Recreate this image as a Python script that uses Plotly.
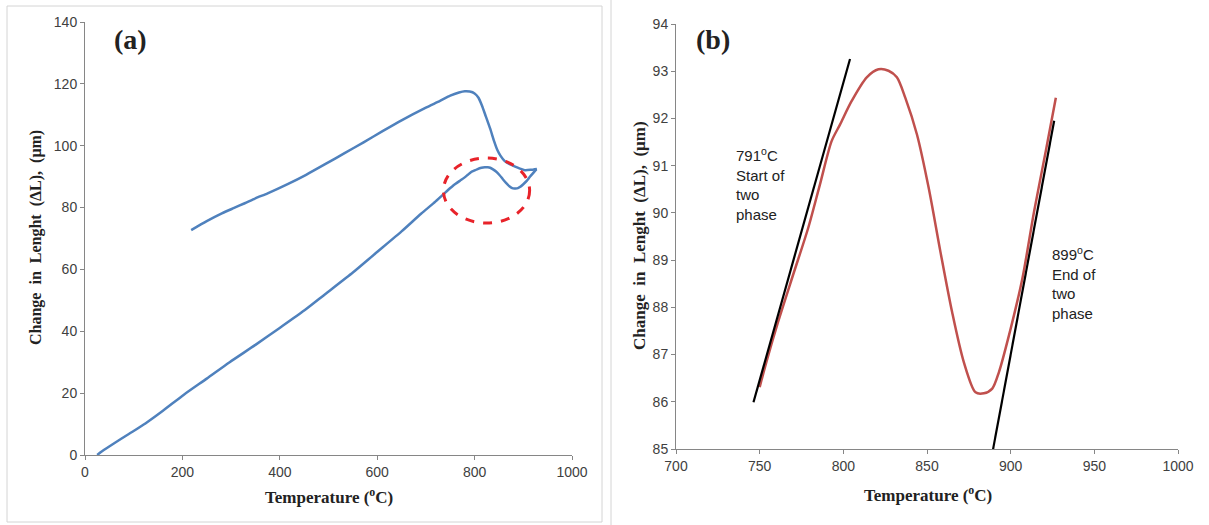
import plotly.graph_objects as go

# ---------------- data ----------------
# Panel (a): heating curve (low-temperature part) and shared high-temp part
heat_T_low = [25, 35, 60, 90, 124, 160, 203, 250, 297, 350, 399, 450, 493, 550, 595, 650, 690, 720]
heat_dL_low = [0.0, 1.2, 3.8, 6.8, 10.2, 14.3, 19.5, 24.7, 30.0, 35.6, 41.0, 46.7, 52.0, 59.0, 65.0, 72.3, 78.0, 82.0]

# Panel (b): detail of the heating curve in the two-phase region
b_T = [750, 754, 761, 770, 779, 786, 793, 798, 805, 814, 821, 827, 832, 837, 844, 851,
       858, 865, 872, 879, 884, 889, 893, 900, 907, 914, 921, 927]
b_dL = [86.31, 86.84, 87.69, 88.69, 89.68, 90.6, 91.52, 91.87, 92.37, 92.87, 93.04, 93.01,
        92.87, 92.44, 91.66, 90.53, 89.18, 87.9, 86.84, 86.2, 86.18, 86.28, 86.63, 87.55,
        88.61, 90.03, 91.31, 92.44]

# Panel (a): cooling curve
cool_T = [928, 915, 903, 893, 882, 872, 862, 853, 847, 840, 832, 823, 815, 808, 800, 790,
          780, 768, 750, 729, 700, 650, 611, 572, 533, 494, 454, 415, 375, 350, 328, 305,
          281, 250, 218]
cool_dL = [92.5, 92.2, 92.1, 92.6, 93.3, 94.0, 95.0, 96.8, 98.5, 101.5, 105.5, 109.5, 113.0,
           115.5, 116.9, 117.5, 117.6, 117.2, 116.2, 114.5, 112.3, 108.2, 104.7, 101.1, 97.6,
           94.1, 90.6, 87.5, 84.6, 83.0, 81.4, 79.8, 78.1, 75.6, 72.7]

# Tangent lines in panel (b)
tan1_T = [746.3, 804.0]
tan1_dL = [85.99, 93.26]
tan2_T = [888.4, 926.0]
tan2_dL = [84.79, 91.95]

# Ellipse marking the two-phase region in panel (a)
ell_T = [736, 913]
ell_dL = [75.0, 96.0]

# Tick values
a_xticks = [0, 200, 400, 600, 800, 1000]
a_yticks = [0, 20, 40, 60, 80, 100, 120, 140]
b_xticks = [700, 750, 800, 850, 900, 950, 1000]
b_yticks = [85, 86, 87, 88, 89, 90, 91, 92, 93, 94]

# ---------------- figure ----------------
BLUE = "#4f81bd"
RED = "#c0504d"
AXC = "#868686"
TICKC = "#404040"
NARROW = "Liberation Sans Narrow, Arial Narrow, Liberation Sans, sans-serif"
TICKFONT = dict(family=NARROW, size=14, color=TICKC)
SERIF = "Liberation Serif, Times New Roman, serif"

fig = go.Figure()

fig.add_trace(go.Scatter(x=heat_T_low + b_T, y=heat_dL_low + b_dL, mode="lines",
                         line=dict(color=BLUE, width=2.5, shape="spline", smoothing=0.6),
                         xaxis="x", yaxis="y", showlegend=False))
fig.add_trace(go.Scatter(x=cool_T, y=cool_dL, mode="lines",
                         line=dict(color=BLUE, width=2.5, shape="spline", smoothing=0.6),
                         xaxis="x", yaxis="y", showlegend=False))

fig.add_trace(go.Scatter(x=b_T, y=b_dL, mode="lines",
                         line=dict(color=RED, width=2.5, shape="spline", smoothing=0.8),
                         xaxis="x2", yaxis="y2", showlegend=False))
fig.add_trace(go.Scatter(x=tan1_T, y=tan1_dL, mode="lines",
                         line=dict(color="black", width=2.2),
                         xaxis="x2", yaxis="y2", showlegend=False))
fig.add_trace(go.Scatter(x=tan2_T, y=tan2_dL, mode="lines",
                         line=dict(color="black", width=2.2),
                         xaxis="x2", yaxis="y2", showlegend=False))

axis_common = dict(showgrid=False, zeroline=False, showline=True, linecolor=AXC, linewidth=1,
                   ticks="outside", ticklen=4, tickcolor=AXC, tickfont=TICKFONT, automargin=False)

fig.update_layout(
    width=1209, height=525,
    margin=dict(l=0, r=0, t=0, b=0, pad=0),
    paper_bgcolor="white", plot_bgcolor="rgba(0,0,0,0)",
    xaxis=dict(domain=[85/1209, 572/1209], range=[0, 1000], tickvals=a_xticks,
               anchor="y", **axis_common),
    yaxis=dict(domain=[1-455/525, 1-22/525], range=[0, 140], tickvals=a_yticks,
               anchor="x", **axis_common),
    xaxis2=dict(domain=[676/1209, 1178/1209], range=[700, 1000], tickvals=b_xticks,
                anchor="y2", **axis_common),
    yaxis2=dict(domain=[1-449/525, 1-24/525], range=[85, 94], tickvals=b_yticks,
                anchor="x2", **axis_common),
)

shapes = [
    # red dashed ellipse
    dict(type="circle", xref="x", yref="y", x0=ell_T[0], x1=ell_T[1], y0=ell_dL[0], y1=ell_dL[1],
         line=dict(color="#e8232a", width=3, dash="dash")),
    # image frames
    dict(type="rect", xref="paper", yref="paper", x0=7/1209, x1=602/1209, y0=3/525, y1=1-6/525,
         line=dict(color="#d4d4d4", width=1)),
    dict(type="line", xref="paper", yref="paper", x0=611/1209, x1=611/1209, y0=0, y1=1,
         line=dict(color="#d4d4d4", width=1)),
]
fig.update_layout(shapes=shapes)


def ann(text, x, y, size, family=SERIF, angle=0, xa="center", ya="middle", align="center"):
    return dict(text=text, x=x/1209, y=1-y/525, xref="paper", yref="paper", showarrow=False,
                xanchor=xa, yanchor=ya, align=align, textangle=angle,
                font=dict(family=family, size=size, color="#222"))


annotations = [
    ann("<b>(a)</b>", 130, 39, 28),
    ann("<b>(b)</b>", 713, 39, 28),
    ann("<b>Temperature (<sup>o</sup>C)</b>", 329, 496, 17),
    ann("<b>Temperature (<sup>o</sup>C)</b>", 928, 494, 17),
    ann("<b>Change  in  Lenght  (ΔL),  (μm)</b>", 36, 238, 16, angle=-90),
    ann("<b>Change  in  Lenght  (ΔL),  (μm)</b>", 639, 236, 17, angle=-90),
    ann("791<sup>o</sup>C<br>Start of<br>two<br>phase", 734, 143, 15, family=NARROW,
        xa="left", ya="top", align="left"),
    ann("899<sup>o</sup>C<br>End of<br>two<br>phase", 1050, 242, 15, family=NARROW,
        xa="left", ya="top", align="left"),
]
fig.update_layout(annotations=annotations)

fig.write_html("out.html")
